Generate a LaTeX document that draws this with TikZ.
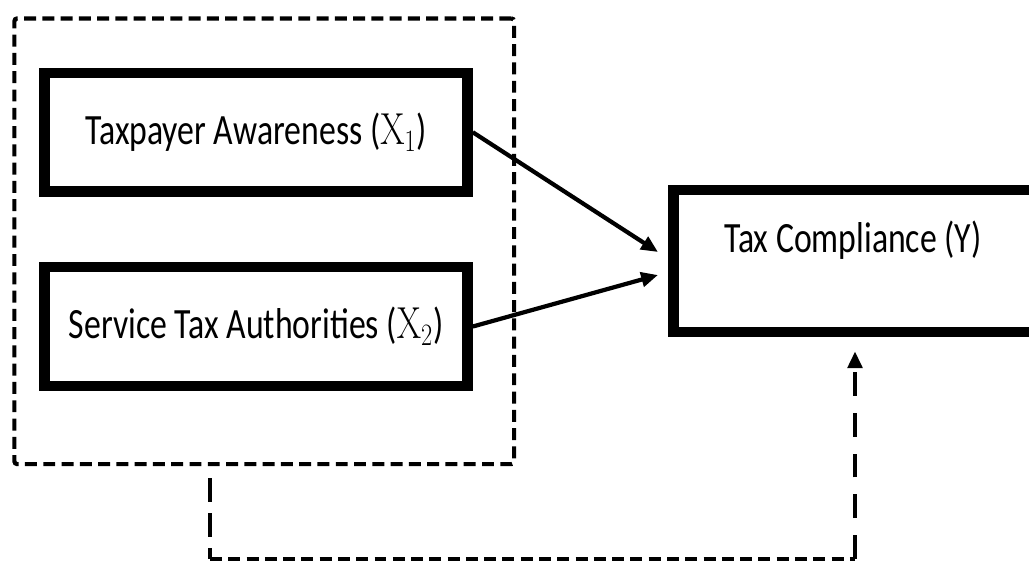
\documentclass[tikz,border=0pt]{standalone}
\usepackage[no-math]{fontspec}
\setmainfont{Carlito}
\usetikzlibrary{positioning,calc,arrows.meta}

\newcommand{\tallText}[1]{\scalebox{1}[1.28]{#1}}

\begin{document}
\begin{tikzpicture}
    [
    x=0.025cm, y=-0.025cm,
    varbox/.style={
      draw, line width=7.5pt, inner sep=0pt,
      font=\fontsize{24}{28}\selectfont
    },
    grpline/.style={
      draw, line width=3pt, rounded corners=2pt,
      dash pattern=on 8.5pt off 4.5pt
    },
    effect/.style={
      line width=3pt,
      -{Triangle[length=0.42cm, width=0.36cm]}
    },
    feedline/.style={
      line width=3pt, dash pattern=on 17pt off 8pt
    }
    ]
    \useasboundingbox (0,0) rectangle (1029,561);

    % the independent variables, inside the dashed group
    \node[grpline, minimum width=12.49cm, minimum height=11.14cm]
      (grp) at (264.25, 241.25) {};
    \node[varbox, minimum width=10.575cm, minimum height=2.96cm]
      (aware) at (256, 132.25) {\tallText{Taxpayer Awareness ($\mathrm{X}_1$)}};
    \node[varbox, minimum width=10.575cm, minimum height=2.975cm]
      (serv) at (256, 326.5) {\tallText{Service Tax Authorities ($\mathrm{X}_2$)}};

    % the dependent variable (runs off the right edge)
    \node[varbox, minimum width=9.2cm, minimum height=3.55cm]
      (comp) at (857.5, 261) {};
    \node[font=\fontsize{24}{28}\selectfont, inner sep=0pt]
      (compTxt) at (853, 240) {\tallText{Tax Compliance (Y)}};

    % direct effects
    \coordinate (inA) at (658, 252);
    \coordinate (inB) at (658, 275);
    \draw[effect] (aware.east) -- (inA);
    \draw[effect] (serv.east) -- (inB);

    % joint effect
    \coordinate (fbStart) at (210, 478);
    \coordinate (fbLeft)  at (210, 559);
    \coordinate (fbRight) at (855, 559);
    \draw[feedline] (fbStart) -- (fbLeft);
    \draw[line width=3pt, dash pattern=on 8.5pt off 4.5pt] (fbLeft) -- (fbRight);
    \draw[feedline, dash pattern=on 17pt off 12pt,
          -{Triangle[length=0.42cm, width=0.36cm]}, shorten >=0.35cm]
      (fbRight) -- (fbRight |- comp.south);
\end{tikzpicture}
\end{document}
